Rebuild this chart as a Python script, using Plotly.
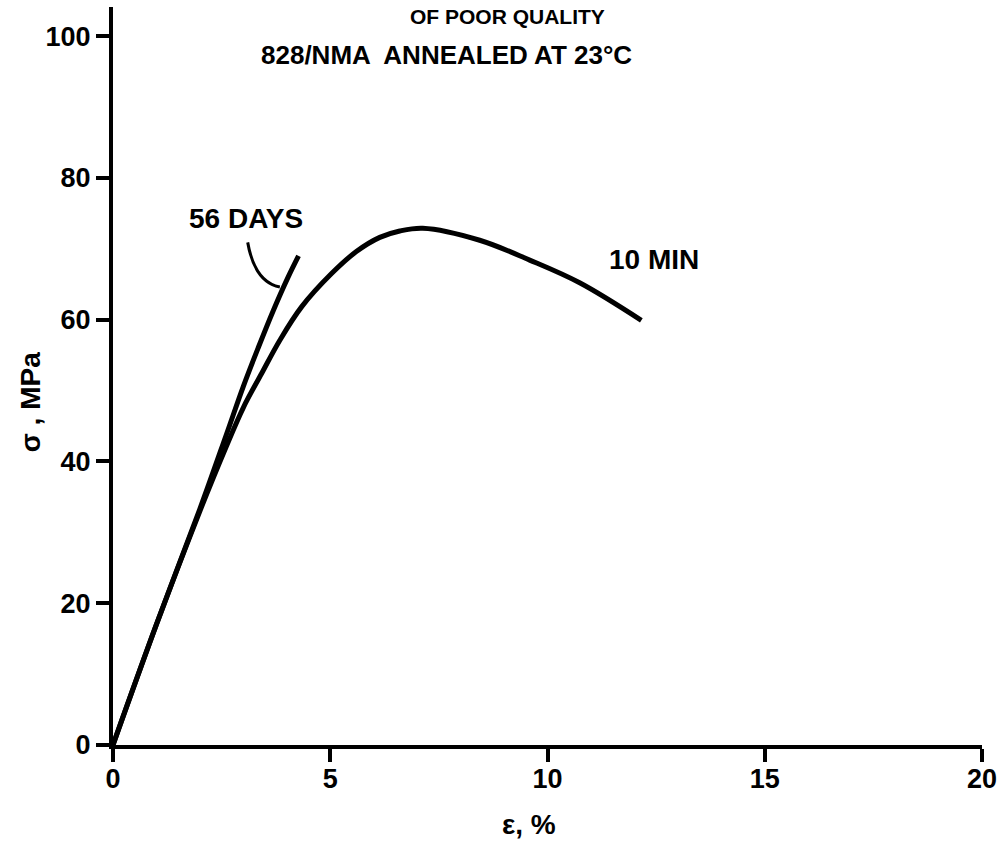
import plotly.graph_objects as go

# ---- data ----
strain_10min = [0, 1.0, 2.0, 2.6, 3.0, 3.42, 3.84, 4.34, 5.03, 5.6, 6.14, 6.6, 7.13, 8.44, 9.59, 10.74, 12.16]
stress_10min = [0, 17.0, 33.0, 42.0, 47.6, 52.4, 57.1, 61.8, 66.5, 69.6, 71.6, 72.5, 72.9, 71.2, 68.4, 65.2, 59.9]

strain_56days = [0, 1.0, 2.0, 2.61, 3.0, 3.34, 3.69, 4.03, 4.27]
stress_56days = [0, 17.0, 33.3, 43.8, 50.6, 56.0, 61.3, 66.0, 69.0]

x_ticks = [0, 5, 10, 15, 20]
y_ticks = [0, 20, 40, 60, 80, 100]

title_line1 = "OF POOR QUALITY"
title_line2 = "828/NMA  ANNEALED AT 23°C"
label_10min = "10 MIN"
label_56days = "56 DAYS"

FONT = "Liberation Sans"
BLACK = "#000000"

fig = go.Figure()
fig.add_trace(go.Scatter(x=strain_10min, y=stress_10min, mode="lines",
                         line=dict(color=BLACK, width=5, shape="spline", smoothing=1.0),
                         showlegend=False, hoverinfo="skip"))
fig.add_trace(go.Scatter(x=strain_56days, y=stress_56days, mode="lines",
                         line=dict(color=BLACK, width=5, shape="spline", smoothing=1.0),
                         showlegend=False, hoverinfo="skip"))

tickfont = dict(family=FONT, size=27, color=BLACK, weight="bold")

fig.update_xaxes(range=[0, 20], tickvals=x_ticks, ticktext=[str(v) for v in x_ticks],
                 showgrid=False, zeroline=False, showline=True, linecolor=BLACK, linewidth=4,
                 ticks="outside", ticklen=13, tickwidth=4, tickcolor=BLACK,
                 tickfont=tickfont, ticklabelstandoff=-6)
fig.update_yaxes(range=[0, 104.1], tickvals=y_ticks, ticktext=[str(v) for v in y_ticks],
                 showgrid=False, zeroline=False, showline=True, linecolor=BLACK, linewidth=4,
                 ticks="outside", ticklen=13, tickwidth=4, tickcolor=BLACK,
                 tickfont=tickfont, ticklabelstandoff=0)

annfont = dict(family=FONT, size=26, color=BLACK, weight="bold")
bigfont = dict(family=FONT, size=28, color=BLACK, weight="bold")
fig.add_annotation(x=9.08, y=102.7, xref="x", yref="y", text=title_line1, showarrow=False,
                   xanchor="center", yanchor="middle",
                   font=dict(family=FONT, size=21, color=BLACK, weight="bold"))
fig.add_annotation(x=7.68, y=97.3, xref="x", yref="y", text=title_line2, showarrow=False,
                   xanchor="center", yanchor="middle", font=annfont)
fig.add_annotation(x=3.06, y=74.3, xref="x", yref="y", text=label_56days, showarrow=False,
                   xanchor="center", yanchor="middle", font=bigfont)
fig.add_annotation(x=12.46, y=68.5, xref="x", yref="y", text=label_10min, showarrow=False,
                   xanchor="center", yanchor="middle", font=bigfont)
# axis titles
fig.add_annotation(x=-0.095, y=48.4, xref="paper", yref="y", text="σ , MPa", showarrow=False,
                   xanchor="center", yanchor="middle", textangle=-90, font=bigfont)
fig.add_annotation(x=0.479, y=-0.108, xref="paper", yref="paper", text="ε, %", showarrow=False,
                   xanchor="center", yanchor="middle", font=bigfont)

# curved leader from the "56 DAYS" label to its curve
fig.add_shape(type="path", xref="x", yref="y",
              path="M 3.1,70.9 Q 3.26,65.3 3.84,64.6",
              line=dict(color=BLACK, width=3))

fig.update_layout(width=1005, height=842,
                  margin=dict(l=113, r=23, t=7, b=97),
                  paper_bgcolor="white", plot_bgcolor="white")

fig.write_html("out.html")
